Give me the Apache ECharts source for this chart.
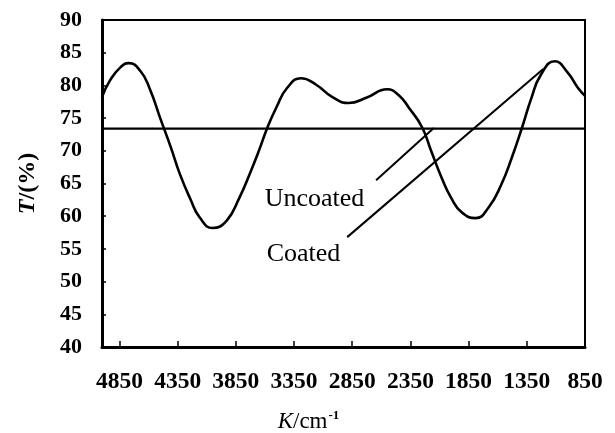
<!DOCTYPE html>
<html>
<head>
<meta charset="utf-8">
<script src="https://cdn.jsdelivr.net/npm/echarts@6/dist/echarts.min.js"></script>
<style>
  html, body { margin: 0; padding: 0; background: #fff; }
  #main { width: 615px; height: 433px; }
</style>
</head>
<body>
<div id="main"></div>
<script>
// wavenumber (cm-1) and transmittance (%)
var waveNumbers = [5000, 4930, 4840, 4770, 4670, 4590, 4500, 4410, 4330, 4240, 4160, 4050,
    3930, 3820, 3730, 3650, 3580, 3500, 3410, 3290, 3160, 3020, 2880, 2730, 2550, 2450,
    2360, 2250, 2170, 2080, 2000, 1910, 1790, 1680, 1570, 1480, 1390, 1310, 1230, 1110,
    1000, 910, 850];
var coatedT = [78.2, 80.8, 82.8, 83.4, 82.2, 79.5, 75.0, 70.6, 66.4, 62.6, 59.8, 58.2,
    59.3, 62.8, 66.5, 70.1, 73.5, 76.7, 79.6, 81.1, 80.1, 78.2, 77.3, 78.1, 79.4, 78.5,
    76.5, 73.6, 69.9, 65.8, 62.8, 60.6, 59.7, 61.3, 64.8, 68.9, 73.6, 78.1, 81.6, 83.7,
    82.0, 79.6, 78.4];
var uncoatedK = [5000, 850];
var uncoatedT = [73.4, 73.4];
var xTicks = [4850, 4350, 3850, 3350, 2850, 2350, 1850, 1350, 850];

var FONT = "'Liberation Serif', 'Times New Roman', serif";

var coatedData = [];
for (var i = 0; i < waveNumbers.length; i++) {
    coatedData.push([waveNumbers[i], coatedT[i]]);
}
var uncoatedData = [];
for (var j = 0; j < uncoatedK.length; j++) {
    uncoatedData.push([uncoatedK[j], uncoatedT[j]]);
}

var myChart = echarts.init(document.getElementById('main'));

var option = {
    animation: false,
    backgroundColor: '#fff',
    grid: {
        left: 102, right: 30, top: 20, bottom: 86,
        show: true, borderColor: '#000', borderWidth: 2,
        outerBoundsMode: 'none'
    },
    xAxis: {
        type: 'value',
        min: 850,
        max: 5000,
        inverse: true,
        name: '{i|K}/cm{sup|-1}',
        nameLocation: 'middle',
        nameGap: 62,
        nameTextStyle: {
            fontFamily: FONT, fontSize: 23, color: '#000',
            padding: [0, 70, 0, 0],
            rich: {
                i: { fontFamily: FONT, fontSize: 23, fontStyle: 'italic', color: '#000' },
                sup: { fontFamily: FONT, fontSize: 13, fontWeight: 'bold', color: '#000', verticalAlign: 'top', padding: [0, 0, 12, 1] }
            }
        },
        axisLine: { show: true, onZero: false, lineStyle: { color: '#000', width: 3 } },
        axisTick: { show: true, inside: true, length: 6, customValues: xTicks, lineStyle: { color: '#000', width: 1.5 } },
        axisLabel: {
            customValues: xTicks,
            margin: 23,
            formatter: function (v) { return String(v); },
            fontFamily: FONT, fontSize: 23.5, fontWeight: 'bold', color: '#000'
        },
        splitLine: { show: false }
    },
    yAxis: {
        type: 'value',
        min: 40,
        max: 90,
        interval: 5,
        name: '{i|T}/(%)',
        nameLocation: 'middle',
        nameGap: 62,
        nameTextStyle: {
            fontFamily: FONT, fontSize: 24, fontWeight: 'bold', color: '#000',
            rich: {
                i: { fontFamily: FONT, fontSize: 24, fontWeight: 'bold', fontStyle: 'italic', color: '#000' }
            }
        },
        axisLine: { show: true, lineStyle: { color: '#000', width: 3 } },
        axisTick: { show: true, inside: true, length: 4, lineStyle: { color: '#000', width: 1.5 } },
        axisLabel: {
            margin: 20,
            fontFamily: FONT, fontSize: 22, fontWeight: 'bold', color: '#000'
        },
        splitLine: { show: false }
    },
    series: [
        {
            name: 'Coated',
            type: 'line',
            data: coatedData,
            smooth: 0.5,
            showSymbol: false,
            lineStyle: { color: '#000', width: 2.6 }
        },
        {
            name: 'Uncoated',
            type: 'line',
            data: uncoatedData,
            showSymbol: false,
            lineStyle: { color: '#000', width: 2.2 },
            markLine: {
                silent: true,
                symbol: ['none', 'none'],
                label: { show: false },
                lineStyle: { color: '#000', width: 2, type: 'solid' },
                data: [
                    [{ coord: [2645, 65.5] }, { coord: [2149, 73.5] }],
                    [{ coord: [2893, 56.8] }, { coord: [1209, 82.5] }]
                ]
            }
        }
    ]
};
myChart.setOption(option);

// annotation texts placed in data space
var notes = [
    { text: 'Uncoated', at: [3602, 62.6] },
    { text: 'Coated', at: [3585, 54.2] }
];
var elements = [];
notes.forEach(function (n) {
    var p = myChart.convertToPixel({ gridIndex: 0 }, n.at);
    elements.push({
        type: 'text',
        x: p[0],
        y: p[1],
        style: {
            text: n.text,
            fontFamily: FONT,
            fontSize: 26,
            fill: '#000',
            textAlign: 'left',
            textVerticalAlign: 'middle'
        }
    });
});
myChart.setOption({ graphic: elements });
</script>
</body>
</html>
